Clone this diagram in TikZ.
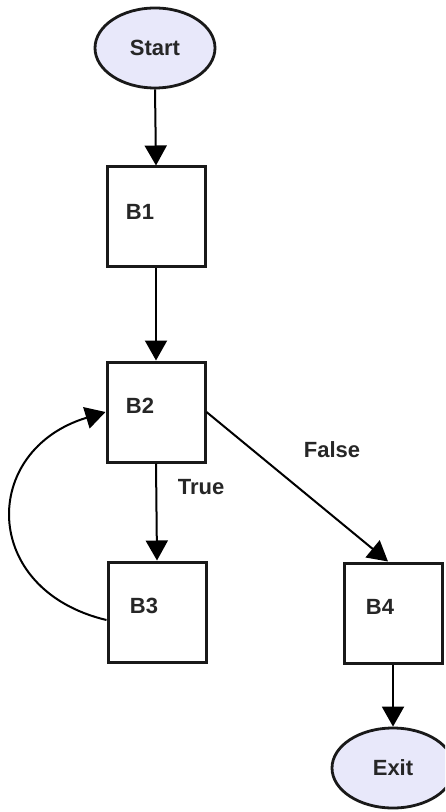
\documentclass[tikz,border=0pt]{standalone}
\usepackage{fontspec}
\setmainfont{Liberation Sans}
\usetikzlibrary{arrows.meta,calc,shapes.geometric}
\definecolor{lav}{RGB}{232,232,250}
\begin{document}
\begin{tikzpicture}[x=0.5pt,y=-0.5pt,
  blk/.style={draw=black!90, line width=1.5pt, fill=white, minimum width=49pt, minimum height=50pt, inner sep=0pt},
  term/.style={ellipse, draw=black!90, line width=1.4pt, fill=lav, minimum width=60pt, minimum height=40pt, inner sep=0pt, font=\fontsize{11}{13}\selectfont\bfseries, text=black!85},
  lbl/.style={font=\fontsize{11}{13}\selectfont\bfseries, inner sep=0pt, text=black!85},
  arr/.style={-{Triangle[length=10pt,width=11pt]}, line width=1pt, draw=black}
]
\useasboundingbox (0,0) rectangle (445,812);
\clip (0,0) rectangle (445,812);
\fill[white] (0,0) rectangle (445,812);

\node[term] (start) at (155,48) {Start};
\node[blk] (b1) at (156,217) {};
\node[blk] (b2) at (156,412) {};
\node[blk] (b3) at (157,612) {};
\node[blk] (b4) at (393,613) {};
\node[term, minimum width=61pt] (exit) at (393,768) {Exit};

\node[lbl] (b1t) at ($(b1)+(-16,-5)$) {B1};
\node[lbl] (b2t) at ($(b2)+(-16,-6)$) {B2};
\node[lbl] (b3t) at ($(b3)+(-13,-6)$) {B3};
\node[lbl] (b4t) at ($(b4)+(-13,-6)$) {B4};

\draw[arr] (start.south) -- (b1.north);
\draw[arr] (b1.south) -- (b2.north);
\draw[arr] (b2.south) -- (b3.north);
\draw[arr] (b2.east) -- ($(b4.north)+(-5,0)$);
\draw[arr] (b4.south) -- (exit.north);
\draw[arr] ($(b3.west)+(0,8)$) .. controls (-20,590) and (-20,450) .. (b2.west);

\node[lbl] (truel) at (201,487) {True};
\node[lbl] (falsel) at (332,450) {False};
\end{tikzpicture}
\end{document}
